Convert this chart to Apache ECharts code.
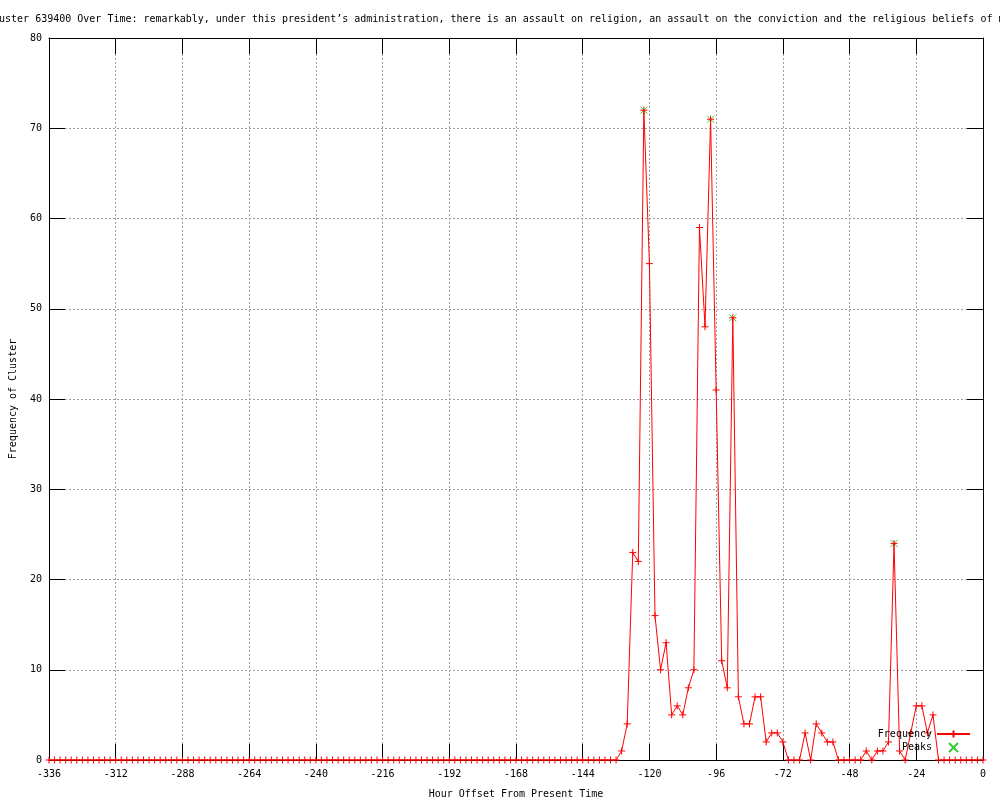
<!DOCTYPE html>
<html>
<head>
<meta charset="utf-8">
<script src="https://cdn.jsdelivr.net/npm/echarts@6/dist/echarts.min.js"></script>
<style>html,body{margin:0;padding:0;background:#fff}#c{width:1000px;height:800px}</style>
</head>
<body>
<div id="c"></div>
<script>
const titleText = "Cluster 639400 Over Time: remarkably, under this president\u2019s administration, there is an assault on religion, an assault on the conviction and the religious beliefs of men";
const xName = "Hour Offset From Present Time";
const yName = "Frequency of Cluster";
const seriesNames = ["Frequency", "Peaks"];

// sampling grid: every 2 hours from -336 to 0
const hourStart = -336, hourEnd = 0, hourStep = 2;
const hours = [];
for (let h = hourStart; h <= hourEnd; h += hourStep) hours.push(h);

// frequency values, one per hour in `hours`
const freq = [
  0,0,0,0,0,0,0,0,0,0,0,0,
  0,0,0,0,0,0,0,0,0,0,0,0,
  0,0,0,0,0,0,0,0,0,0,0,0,
  0,0,0,0,0,0,0,0,0,0,0,0,
  0,0,0,0,0,0,0,0,0,0,0,0,
  0,0,0,0,0,0,0,0,0,0,0,0,
  0,0,0,0,0,0,0,0,0,0,0,0,
  0,0,0,0,0,0,0,0,0,0,0,0,
  0,0,0,0,0,0,0,
  1,4,23,22,72,55,16,10,13,5,
  6,5,8,10,59,48,71,41,11,8,
  49,7,4,4,7,7,2,3,3,2,
  0,0,0,3,0,4,3,2,2,0,
  0,0,0,0,1,0,1,1,2,24,
  1,0,3,6,6,3,5,0,0,0,
  0,0,0,0,0,0
];

const peakHours = [-122, -98, -90, -32];
const peakValues = [72, 71, 49, 24];

const xMin = -336, xMax = 0, xInterval = 24;
const yMin = 0, yMax = 80, yInterval = 10;

const font = "'DejaVu Sans Mono', monospace";
const plus = 'path://M0,5L10,5M5,0L5,10';
const cross = 'path://M0,0L10,10M10,0L0,10';
const red = '#ff0000', green = '#00c000';

const gridLine = {show: true, lineStyle: {color: '#a0a0a0', type: [2, 2], width: 1}};
const tick = {show: true, inside: true, length: 16, lineStyle: {color: '#000', width: 1}};
const axisLine = {show: true, onZero: false, lineStyle: {color: '#000', width: 1}};

const chart = echarts.init(document.getElementById('c'), null, {renderer: 'canvas'});
chart.setOption({
  animation: false,
  backgroundColor: '#fff',
  graphic: [{
    type: 'text', x: -13, y: 19, silent: true,
    style: {text: titleText, font: "10px 'DejaVu Sans Mono', monospace", fill: '#000', verticalAlign: 'middle', align: 'left'}
  }],
  grid: {left: 49, right: 17, top: 38, bottom: 40, containLabel: false, outerBoundsMode: 'none'},
  legend: {
    orient: 'vertical', right: 24, top: 724, align: 'right',
    itemWidth: 33, itemHeight: 9, itemGap: 3,
    textStyle: {fontFamily: font, fontSize: 10, color: '#000'},
    data: seriesNames
  },
  xAxis: [{
    type: 'value', min: xMin, max: xMax, interval: xInterval,
    name: xName, nameLocation: 'middle', nameGap: 29,
    nameTextStyle: {fontFamily: font, fontSize: 10, color: '#000'},
    axisLine: axisLine, axisTick: tick, splitLine: gridLine,
    axisLabel: {fontFamily: font, fontSize: 10, color: '#000', margin: 9}
  }, {
    type: 'value', min: xMin, max: xMax, interval: xInterval, position: 'top',
    axisLine: axisLine, axisTick: tick, splitLine: {show: false}, axisLabel: {show: false}
  }],
  yAxis: [{
    type: 'value', min: yMin, max: yMax, interval: yInterval,
    name: yName, nameLocation: 'middle', nameGap: 31, nameRotate: 90,
    nameTextStyle: {fontFamily: font, fontSize: 10, color: '#000'},
    axisLine: axisLine, axisTick: tick, splitLine: gridLine,
    axisLabel: {fontFamily: font, fontSize: 10, color: '#000', margin: 7}
  }, {
    type: 'value', min: yMin, max: yMax, interval: yInterval, position: 'right',
    axisLine: axisLine, axisTick: tick, splitLine: {show: false}, axisLabel: {show: false}
  }],
  series: [{
    name: seriesNames[0],
    type: 'line',
    data: hours.map((h, i) => [h, freq[i]]),
    showSymbol: true, showAllSymbol: true,
    symbol: plus, symbolSize: 7,
    lineStyle: {color: red, width: 1},
    itemStyle: {color: red, borderColor: red, borderWidth: 1},
    emphasis: {disabled: true}
  }, {
    name: seriesNames[1],
    type: 'scatter',
    data: peakHours.map((h, i) => [h, peakValues[i]]),
    symbol: cross, symbolSize: 7,
    itemStyle: {color: green, borderColor: green, borderWidth: 1},
    emphasis: {disabled: true}
  }]
});
</script>
</body>
</html>
